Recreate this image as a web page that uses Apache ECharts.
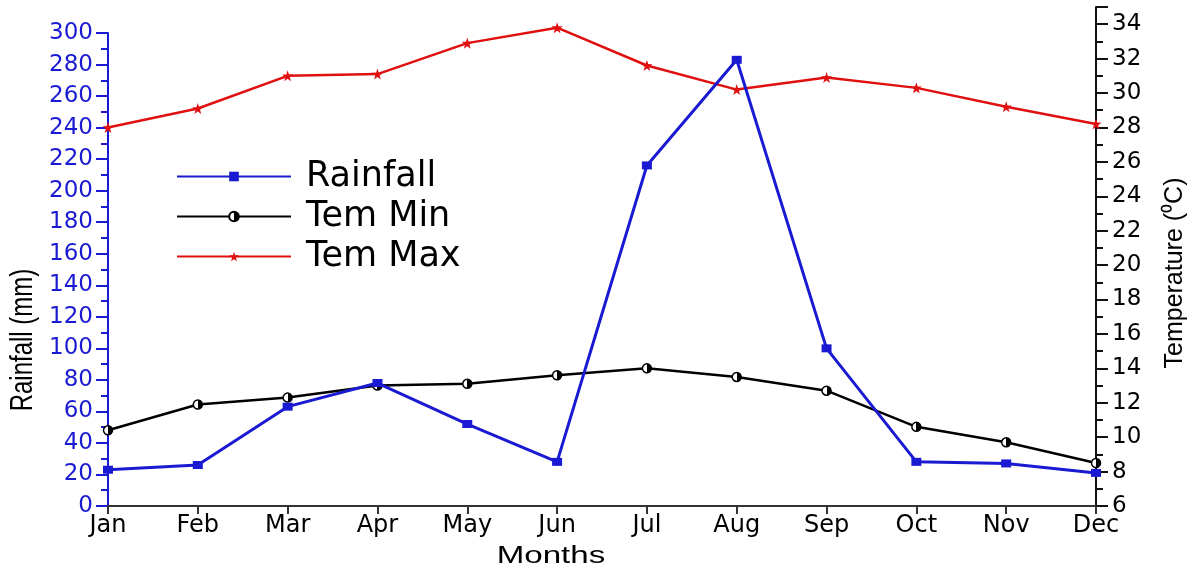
<!DOCTYPE html>
<html>
<head>
<meta charset="utf-8">
<script src="https://cdn.jsdelivr.net/npm/echarts@6/dist/echarts.min.js"></script>
<style>
  html, body { margin: 0; padding: 0; background: #fff; }
  #chart { width: 1199px; height: 568px; }
</style>
</head>
<body>
<div id="chart"></div>
<script>
// Monthly rainfall and temperature
const months = ['Jan', 'Feb', 'Mar', 'Apr', 'May', 'Jun', 'Jul', 'Aug', 'Sep', 'Oct', 'Nov', 'Dec'];
const rainfall = [23, 26, 63, 78, 52, 28, 216, 283, 100, 28, 27, 21];
const temMin = [10.4, 11.9, 12.3, 13.0, 13.1, 13.6, 14.0, 13.5, 12.7, 10.6, 9.7, 8.5];
const temMax = [28.0, 29.1, 31.0, 31.1, 32.9, 33.8, 31.6, 30.2, 30.9, 30.3, 29.2, 28.2];

const BLUE = '#1a1ad2';
const FONT = 'Liberation Sans, Arial, sans-serif';
const WIDE = 'DejaVu Sans, sans-serif';
const STAR = 'path://M0,-10 L2.35,-3.24 L9.51,-3.09 L3.8,1.24 L5.88,8.09 L0,4 L-5.88,8.09 L-3.8,1.24 L-9.51,-3.09 L-2.35,-3.24 Z';

// half-white / half-black circle marker
const halfFill = new echarts.graphic.LinearGradient(0, 0, 1, 0, [
  { offset: 0, color: '#fff' },
  { offset: 0.5, color: '#fff' },
  { offset: 0.5, color: '#000' },
  { offset: 1, color: '#000' }
]);

const chart = echarts.init(document.getElementById('chart'));

chart.setOption({
  animation: false,
  backgroundColor: '#fff',
  textStyle: { fontFamily: WIDE },
  grid: [
    { left: 108, right: 103, top: 33, bottom: 62 },
    { left: 108, right: 103, top: 7, bottom: 62 }
  ],
  legend: {
    orient: 'vertical',
    left: 171,
    top: 154,
    itemWidth: 114,
    itemHeight: 12,
    itemGap: 5,
    textStyle: { fontSize: 35, color: '#000', fontFamily: WIDE, padding: [0, 0, 0, 10] },
    data: ['Rainfall', 'Tem Min', 'Tem Max']
  },
  xAxis: [
    {
      type: 'category', gridIndex: 0, data: months, boundaryGap: false,
      axisLine: { lineStyle: { color: '#333', width: 2 } },
      axisTick: { show: true, length: 8, lineStyle: { color: '#333', width: 2 } },
      axisLabel: { fontSize: 24, color: '#000', margin: 8 }
    },
    {
      type: 'category', gridIndex: 1, data: months, boundaryGap: false, show: false
    }
  ],
  yAxis: [
    {
      type: 'value', gridIndex: 0, position: 'left',
      min: 0, max: 300, interval: 20,
      splitLine: { show: false },
      axisLine: { show: true, lineStyle: { color: BLUE, width: 2 } },
      axisTick: { show: true, length: 12, lineStyle: { color: BLUE, width: 2 } },
      minorTick: { show: true, splitNumber: 2, length: 7, lineStyle: { color: BLUE, width: 2 } },
      axisLabel: { fontSize: 23, color: BLUE, margin: 15 }
    },
    {
      type: 'value', gridIndex: 1, position: 'right',
      min: 6, max: 35, interval: 2,
      splitLine: { show: false },
      axisLine: { show: true, lineStyle: { color: '#111', width: 2 } },
      axisTick: { show: true, length: 12, lineStyle: { color: '#111', width: 2 } },
      minorTick: { show: true, splitNumber: 2, length: 7, lineStyle: { color: '#111', width: 2 } },
      axisLabel: { fontSize: 23, color: '#000', margin: 16, showMaxLabel: false }
    }
  ],
  series: [
    {
      name: 'Rainfall', type: 'line', xAxisIndex: 0, yAxisIndex: 0,
      data: rainfall, symbol: 'rect', symbolSize: [10, 8], z: 3,
      lineStyle: { color: BLUE, width: 3 },
      itemStyle: { color: BLUE }
    },
    {
      name: 'Tem Min', type: 'line', xAxisIndex: 1, yAxisIndex: 1,
      data: temMin, symbol: 'circle', symbolSize: 9, z: 2,
      lineStyle: { color: '#000', width: 2.5 },
      itemStyle: { color: halfFill, borderColor: '#000', borderWidth: 1.5 }
    },
    {
      name: 'Tem Max', type: 'line', xAxisIndex: 1, yAxisIndex: 1,
      data: temMax, symbol: STAR, symbolSize: 11, z: 2,
      lineStyle: { color: '#e01010', width: 2.5 },
      itemStyle: { color: '#e01010' }
    }
  ],
  graphic: [
    {
      type: 'text', x: 23, y: 340, rotation: Math.PI / 2, scaleY: 1.3,
      style: { text: 'Rainfall (mm)', font: '24px ' + FONT, fill: '#000', align: 'center', verticalAlign: 'middle' }
    },
    {
      type: 'text', x: 1175, y: 273, rotation: Math.PI / 2,
      style: { text: 'Temperature (\u2070C)', font: '25px ' + FONT, fill: '#000', align: 'center', verticalAlign: 'middle' }
    },
    {
      type: 'text', x: 551, y: 557, scaleX: 1.44,
      style: { text: 'Months', font: '23px ' + FONT, fill: '#000', align: 'center', verticalAlign: 'middle' }
    }
  ]
});
</script>
</body>
</html>
